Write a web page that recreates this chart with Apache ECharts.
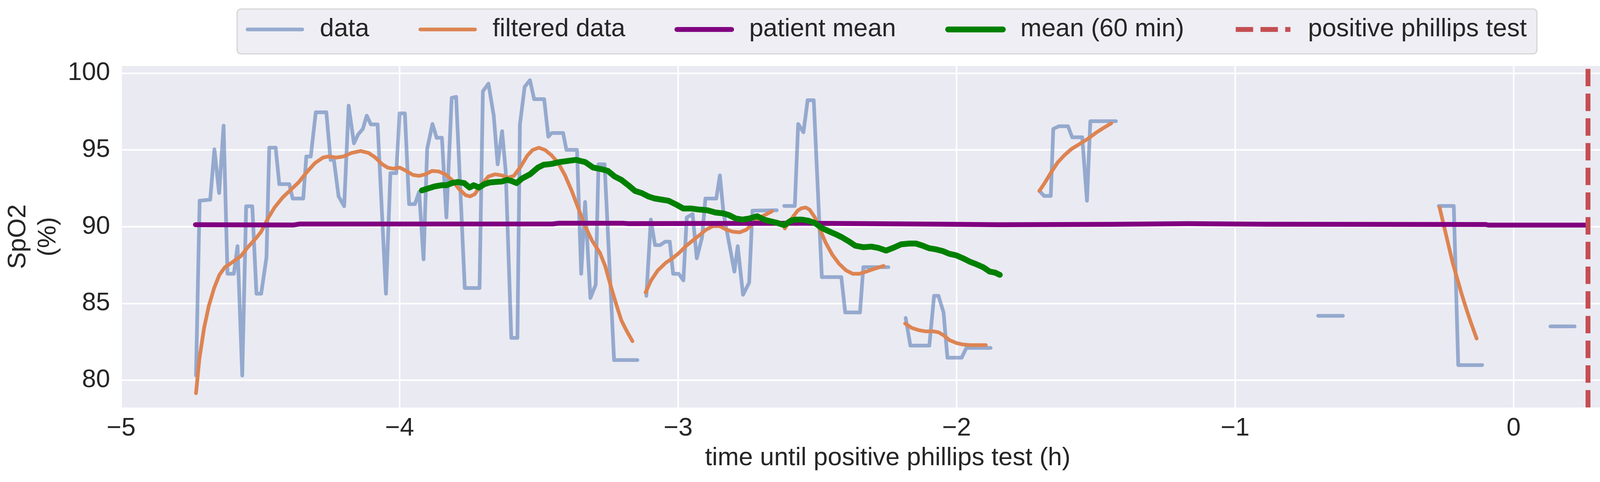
<!DOCTYPE html>
<html>
<head>
<meta charset="utf-8">
<script src="https://cdn.jsdelivr.net/npm/echarts@6/dist/echarts.min.js"></script>
<style>
  html, body { margin: 0; padding: 0; background: #fff; }
  #chart { width: 4264px; height: 1235px; }
</style>
</head>
<body>
<div id="chart"></div>
<script>
const xTicks = [-5, -4, -3, -2, -1, 0];
const yTicks = [80, 85, 90, 95, 100];

// raw SpO2 samples [hours, %], null marks a gap in the recording
const spo2Data = [
  [-4.731, 80.3], [-4.718, 91.69], [-4.680, 91.76], [-4.665, 95.04], [-4.648, 92.19], [-4.632, 96.58],
  [-4.618, 86.93], [-4.595, 86.93], [-4.582, 88.73], [-4.565, 80.3], [-4.551, 91.33], [-4.529, 91.33],
  [-4.514, 85.63], [-4.497, 85.63], [-4.478, 88.0], [-4.468, 95.14], [-4.445, 95.14], [-4.432, 92.77],
  [-4.396, 92.77], [-4.384, 91.83], [-4.346, 91.83], [-4.335, 94.57], [-4.319, 94.57], [-4.301, 97.45],
  [-4.263, 97.45], [-4.248, 94.35], [-4.236, 94.35], [-4.219, 91.97], [-4.199, 91.33], [-4.183, 97.88],
  [-4.164, 95.43], [-4.149, 96.0], [-4.132, 96.37], [-4.118, 97.23], [-4.103, 96.66], [-4.079, 96.66],
  [-4.049, 85.63], [-4.033, 93.49], [-4.012, 93.49], [-4.000, 97.38], [-3.981, 97.38], [-3.966, 91.47],
  [-3.945, 91.47], [-3.930, 92.26], [-3.914, 87.87], [-3.901, 95.07], [-3.882, 96.69], [-3.867, 95.79],
  [-3.848, 95.79], [-3.832, 90.6], [-3.813, 98.39], [-3.797, 98.46], [-3.766, 86.0], [-3.713, 86.0],
  [-3.701, 98.82], [-3.681, 99.32], [-3.662, 97.23], [-3.648, 94.06], [-3.632, 96.22], [-3.619, 93.6],
  [-3.599, 82.75], [-3.577, 82.75], [-3.568, 96.66], [-3.551, 99.11], [-3.532, 99.54], [-3.517, 98.31],
  [-3.481, 98.31], [-3.466, 95.86], [-3.454, 96.1], [-3.413, 96.1], [-3.401, 95.0], [-3.363, 95.0],
  [-3.348, 86.93], [-3.334, 91.61], [-3.315, 85.35], [-3.296, 86.21], [-3.286, 94.06], [-3.264, 94.06],
  [-3.230, 81.31], [-3.146, 81.31],
  null,
  [-3.114, 85.49], [-3.098, 90.46], [-3.083, 88.8], [-3.064, 88.8], [-3.047, 89.02], [-3.030, 89.02],
  [-3.018, 86.93], [-2.998, 86.93], [-2.981, 86.5], [-2.969, 90.6], [-2.948, 90.82], [-2.933, 87.94],
  [-2.914, 89.31], [-2.902, 91.83], [-2.863, 91.83], [-2.850, 93.34], [-2.837, 90.89], [-2.798, 87.07],
  [-2.786, 88.73], [-2.767, 85.56], [-2.745, 86.35], [-2.733, 91.04], [-2.646, 91.07],
  null,
  [-2.619, 91.35], [-2.581, 91.35], [-2.569, 96.69], [-2.550, 96.15], [-2.535, 98.24], [-2.513, 98.24],
  [-2.484, 86.71], [-2.414, 86.71], [-2.400, 84.41], [-2.347, 84.41], [-2.335, 87.36], [-2.245, 87.36],
  null,
  [-2.183, 84.05], [-2.166, 82.25], [-2.098, 82.25], [-2.081, 85.49], [-2.065, 85.49], [-2.047, 84.41],
  [-2.033, 81.46], [-1.982, 81.46], [-1.965, 82.1], [-1.878, 82.1],
  null,
  [-1.703, 92.33], [-1.686, 92.0], [-1.662, 92.0], [-1.653, 96.37], [-1.633, 96.54], [-1.600, 96.54],
  [-1.585, 95.82], [-1.549, 95.82], [-1.532, 91.69], [-1.520, 96.87], [-1.428, 96.87],
  null,
  [-0.702, 84.19], [-0.613, 84.19],
  null,
  [-0.269, 91.35], [-0.215, 91.35], [-0.199, 80.98], [-0.113, 80.98],
  null,
  [0.132, 83.5], [0.219, 83.5]
];

// low-pass filtered SpO2, same gaps as the raw signal
const filteredData = [
  [-4.731, 79.15], [-4.719, 81.38], [-4.702, 83.4], [-4.685, 84.84], [-4.666, 86.0], [-4.647, 86.86],
  [-4.627, 87.36], [-4.603, 87.65], [-4.570, 88.08], [-4.545, 88.66], [-4.516, 89.24], [-4.497, 89.67],
  [-4.473, 90.53], [-4.449, 91.25], [-4.420, 91.9], [-4.391, 92.4], [-4.362, 92.9], [-4.333, 93.56],
  [-4.304, 94.14], [-4.275, 94.5], [-4.256, 94.57], [-4.227, 94.5], [-4.202, 94.57], [-4.173, 94.8],
  [-4.140, 94.93], [-4.111, 94.8], [-4.087, 94.5], [-4.062, 94.06], [-4.043, 93.85], [-4.024, 93.78],
  [-4.000, 93.85], [-3.976, 93.63], [-3.952, 93.37], [-3.930, 93.31], [-3.908, 93.41], [-3.884, 93.63],
  [-3.860, 93.60], [-3.836, 93.41], [-3.812, 93.05], [-3.788, 92.48], [-3.763, 92.05], [-3.747, 91.97],
  [-3.730, 92.12], [-3.705, 92.77], [-3.681, 93.27], [-3.657, 93.41], [-3.633, 93.34], [-3.609, 93.2],
  [-3.590, 93.31], [-3.565, 93.92], [-3.541, 94.64], [-3.522, 95.0], [-3.500, 95.14], [-3.478, 95.0],
  [-3.454, 94.64], [-3.430, 94.14], [-3.406, 93.34], [-3.382, 92.33], [-3.358, 91.18], [-3.334, 90.03],
  [-3.309, 89.09], [-3.281, 88.3], [-3.262, 87.44], [-3.242, 86.14], [-3.223, 84.99], [-3.204, 83.9],
  [-3.184, 83.18], [-3.164, 82.54],
  null,
  [-3.117, 85.71], [-3.097, 86.5], [-3.073, 87.15], [-3.044, 87.65], [-3.020, 87.94], [-2.996, 88.3],
  [-2.972, 88.73], [-2.948, 89.09], [-2.923, 89.45], [-2.899, 89.81], [-2.875, 90.03], [-2.851, 90.03],
  [-2.827, 89.81], [-2.803, 89.67], [-2.779, 89.63], [-2.754, 89.81], [-2.730, 90.24], [-2.706, 90.6],
  [-2.682, 90.82], [-2.663, 91.0],
  null,
  [-2.617, 89.88], [-2.595, 90.46], [-2.571, 91.04], [-2.557, 91.2], [-2.542, 91.25], [-2.528, 91.11],
  [-2.509, 90.6], [-2.489, 89.74], [-2.470, 88.95], [-2.446, 88.16], [-2.422, 87.58], [-2.397, 87.15],
  [-2.373, 86.93], [-2.349, 86.93], [-2.325, 87.07], [-2.301, 87.22], [-2.277, 87.36], [-2.262, 87.44],
  null,
  [-2.185, 83.69], [-2.161, 83.4], [-2.137, 83.26], [-2.113, 83.18], [-2.084, 83.18], [-2.064, 83.11],
  [-2.045, 82.9], [-2.026, 82.61], [-2.001, 82.42], [-1.977, 82.32], [-1.953, 82.28], [-1.895, 82.28],
  null,
  [-1.703, 92.33], [-1.684, 92.84], [-1.660, 93.56], [-1.636, 94.21], [-1.612, 94.67], [-1.587, 95.07],
  [-1.558, 95.39], [-1.529, 95.72], [-1.501, 96.1], [-1.472, 96.44], [-1.445, 96.73],
  null,
  [-0.266, 91.25], [-0.250, 90.03], [-0.235, 88.88], [-0.219, 87.65], [-0.203, 86.64], [-0.187, 85.63],
  [-0.171, 84.7], [-0.155, 83.83], [-0.133, 82.71]
];

const patientMean = [
  [-4.733, 90.13], [-4.38, 90.11], [-4.36, 90.17], [-3.45, 90.18], [-3.43, 90.22], [-3.2, 90.22],
  [-3.18, 90.2], [-2.55, 90.22], [-2.32, 90.2], [-2.05, 90.16], [-1.85, 90.13], [-1.44, 90.15],
  [-1.17, 90.2], [-0.9, 90.16], [-0.1, 90.14], [-0.09, 90.1], [0.259, 90.1]
];

const rollingMean = [
  [-3.920, 92.36], [-3.899, 92.48], [-3.874, 92.62], [-3.850, 92.7], [-3.831, 92.7], [-3.812, 92.84],
  [-3.792, 92.91], [-3.768, 92.84], [-3.749, 92.55], [-3.734, 92.7], [-3.715, 92.55], [-3.696, 92.77],
  [-3.676, 92.88], [-3.657, 92.91], [-3.633, 92.94], [-3.614, 93.05], [-3.599, 92.98], [-3.580, 92.84],
  [-3.561, 93.13], [-3.532, 93.41], [-3.503, 93.85], [-3.483, 94.03], [-3.454, 94.09], [-3.425, 94.21],
  [-3.396, 94.28], [-3.367, 94.35], [-3.334, 94.21], [-3.305, 93.85], [-3.276, 93.75], [-3.252, 93.63],
  [-3.228, 93.27], [-3.204, 93.05], [-3.179, 92.7], [-3.155, 92.33], [-3.131, 92.19], [-3.107, 91.97],
  [-3.083, 91.83], [-3.059, 91.76], [-3.035, 91.69], [-3.010, 91.47], [-2.981, 91.18], [-2.952, 91.18],
  [-2.923, 91.11], [-2.895, 91.07], [-2.866, 90.92], [-2.837, 90.86], [-2.817, 90.75], [-2.793, 90.53],
  [-2.769, 90.46], [-2.745, 90.53], [-2.716, 90.68], [-2.692, 90.46], [-2.668, 90.35], [-2.643, 90.24],
  [-2.619, 90.1], [-2.595, 90.39], [-2.576, 90.46], [-2.557, 90.46], [-2.533, 90.39], [-2.509, 90.24],
  [-2.484, 89.91], [-2.460, 89.71], [-2.436, 89.52], [-2.412, 89.31], [-2.388, 89.05], [-2.364, 88.76],
  [-2.335, 88.66], [-2.306, 88.7], [-2.282, 88.62], [-2.253, 88.44], [-2.228, 88.62], [-2.199, 88.85],
  [-2.170, 88.9], [-2.146, 88.9], [-2.122, 88.76], [-2.098, 88.59], [-2.074, 88.52], [-2.050, 88.41],
  [-2.026, 88.23], [-2.001, 88.13], [-1.977, 87.94], [-1.953, 87.72], [-1.929, 87.55], [-1.905, 87.36],
  [-1.881, 87.07], [-1.861, 87.0], [-1.845, 86.86]
];

const phillipsTime = 0.267;
const xRange = [-5, 0.505];
const yRange = [78.22, 100.47];

const FONT = "'Liberation Sans', Arial, sans-serif";
const TEXT = "#262626";

const gaps = (arr) => arr.map(p => (p === null ? "-" : p));

const chart = echarts.init(document.getElementById("chart"));

const option = {
  animation: false,
  backgroundColor: "#ffffff",
  textStyle: {fontFamily: FONT},
  grid: {
    left: 310, right: 29, top: 169, bottom: 191,
    show: true, backgroundColor: "#EAEAF2", borderWidth: 0,
  },
  legend: {
    left: 607, top: 23,
    padding: [20, 26, 30, 22],
    itemWidth: 140, itemHeight: 20, itemGap: 126,
    backgroundColor: "#EEEEF4",
    borderColor: "#D6D6D6", borderWidth: 3, borderRadius: 10,
    textStyle: {fontSize: 65, color: TEXT, fontFamily: FONT, padding: [0, 0, 0, 40]},
    // hide the marker dot ECharts puts on line-series legend icons
    itemStyle: {opacity: 0},
    lineStyle: {width: "inherit"},
    data: ["data", "filtered data", "patient mean", "mean (60 min)", "positive phillips test"],
  },
  xAxis: {
    type: "value",
    min: xRange[0], max: xRange[1],
    axisLine: {show: false},
    axisTick: {show: false, customValues: xTicks},
    axisLabel: {
      customValues: xTicks, margin: 22, fontSize: 65, color: TEXT, fontFamily: FONT,
      formatter: (v) => (v < 0 ? "\u2212" + Math.abs(v) : String(v)),
    },
    splitLine: {show: true, lineStyle: {color: "#ffffff", width: 4}},
    name: "time until positive phillips test (h)",
    nameLocation: "middle", nameGap: 98,
    nameTextStyle: {fontSize: 65, color: TEXT, fontFamily: FONT},
  },
  yAxis: {
    type: "value",
    min: yRange[0], max: yRange[1],
    axisLine: {show: false},
    axisTick: {show: false, customValues: yTicks},
    axisLabel: {customValues: yTicks, margin: 28, fontSize: 65, color: TEXT, fontFamily: FONT},
    splitLine: {show: true, lineStyle: {color: "#ffffff", width: 4}},
    name: "SpO2\n(%)",
    nameLocation: "middle", nameGap: 141,
    nameTextStyle: {fontSize: 65, color: TEXT, fontFamily: FONT, lineHeight: 77, align: "center"},
  },
  series: [
    {
      name: "data", type: "line", data: gaps(spo2Data), symbol: "none", connectNulls: false,
      color: "#4C72B0",
      lineStyle: {color: "#4C72B0", opacity: 0.54, width: 9.5, cap: "round", join: "round"},
    },
    {
      name: "filtered data", type: "line", data: gaps(filteredData), symbol: "none", connectNulls: false,
      color: "#DD8452",
      lineStyle: {color: "#DD8452", width: 9.5, cap: "round", join: "round"},
    },
    {
      name: "patient mean", type: "line", data: patientMean, symbol: "none",
      color: "#800080",
      lineStyle: {color: "#800080", width: 12.5, cap: "round", join: "round"},
    },
    {
      name: "mean (60 min)", type: "line", data: rollingMean, symbol: "none",
      color: "#008000",
      lineStyle: {color: "#008000", width: 15, cap: "round", join: "round"},
    },
    {
      name: "positive phillips test", type: "line", symbol: "none",
      data: [[phillipsTime, yRange[0]], [phillipsTime, yRange[1]]],
      color: "#C44E52",
      lineStyle: {color: "#C44E52", width: 12.5, type: [44.6, 18.7], cap: "butt"},
    },
  ],
};

chart.setOption(option);
</script>
</body>
</html>
